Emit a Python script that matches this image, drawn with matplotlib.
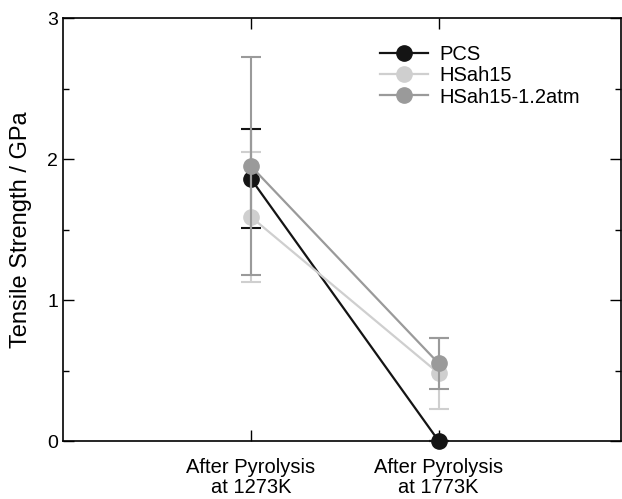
import matplotlib
matplotlib.use("Agg")
import matplotlib.pyplot as plt
from matplotlib.ticker import MultipleLocator

plt.rcParams['font.family'] = ['Liberation Sans', 'DejaVu Sans']

# tensile strength after pyrolysis, mean and error (GPa)
categories = ["After Pyrolysis\nat 1273K", "After Pyrolysis\nat 1773K"]
positions = [1, 2]
series = ["PCS", "HSah15", "HSah15-1.2atm"]
pcs = [1.86, 0.0]
pcs_err = [0.35, 0.0]
hsah15 = [1.59, 0.48]
hsah15_err = [0.46, 0.25]
hsah15_atm = [1.95, 0.55]
hsah15_atm_err = [0.77, 0.18]

colors = ["#141414", "#cfcfcf", "#9a9a9a"]

fig = plt.figure(figsize=(6.22, 4.99), dpi=100)
ax = fig.add_axes([0.1013, 0.1162, 0.897, 0.8477])

# draw in back-to-front order so PCS sits on top
order = [(hsah15, hsah15_err, 1), (hsah15_atm, hsah15_atm_err, 2), (pcs, pcs_err, 0)]
handles = {}
for vals, errs, i in order:
    eb = ax.errorbar(positions, vals, yerr=errs,
                     color=colors[i], marker='o', markersize=11, linewidth=1.6,
                     elinewidth=1.5, capsize=7.5, capthick=1.5, label=series[i],
                     clip_on=False, zorder=3 + i)
    handles[series[i]] = eb[0]

ax.legend([handles[s] for s in series], series, loc='upper left',
          bbox_to_anchor=(0.539, 0.975), frameon=False, fontsize=14.5,
          handlelength=2.4, handletextpad=0.55, labelspacing=0.12,
          borderpad=0.3)

ax.set_xlim(0, 2.97)
ax.set_ylim(0, 3)
ax.set_xticks(positions)
ax.set_xticklabels(categories, fontsize=14.5, linespacing=1.12)
ax.yaxis.set_major_locator(MultipleLocator(1))
ax.yaxis.set_minor_locator(MultipleLocator(0.5))
ax.set_ylabel("Tensile Strength / GPa", fontsize=17, labelpad=11)
ax.tick_params(axis='both', which='both', direction='in', top=True, right=True,
               labelsize=14)
ax.tick_params(which='major', length=8, width=1)
ax.tick_params(which='minor', length=4.5, width=1)
ax.tick_params(axis='x', pad=12, labelsize=14.5)
for sp in ax.spines.values():
    sp.set_linewidth(1.2)

fig.savefig("out.png", dpi=100)
